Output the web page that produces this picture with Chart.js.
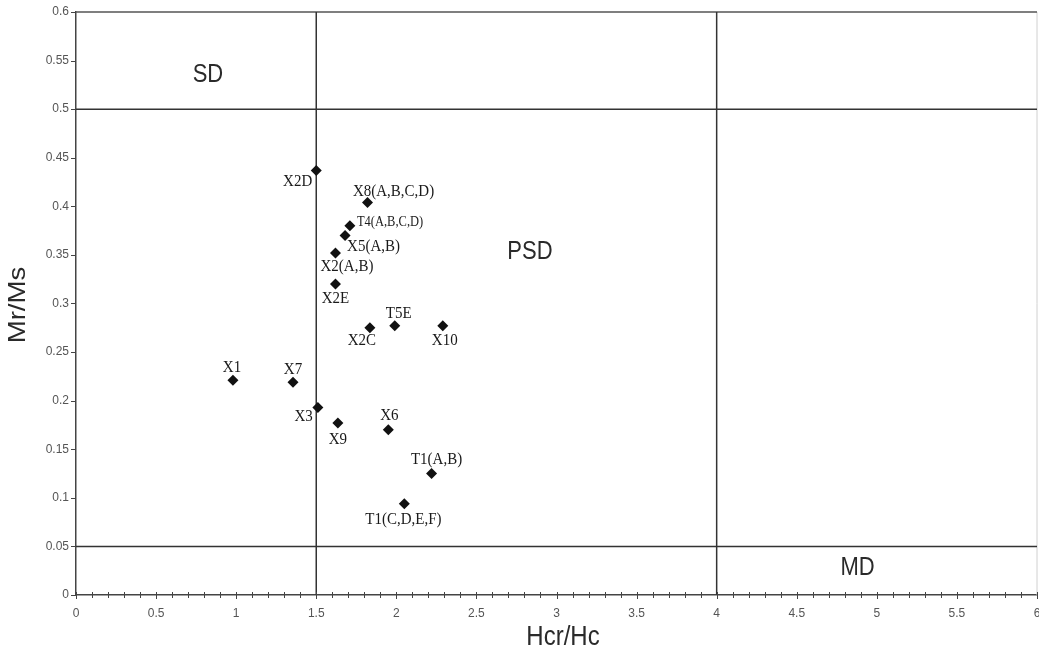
<!DOCTYPE html>
<html>
<head>
<meta charset="utf-8">
<script src="https://cdn.jsdelivr.net/npm/chart.js@4/dist/chart.umd.min.js"></script>
<style>
html,body{margin:0;padding:0;background:#fff;}
#c{display:block;}
</style>
</head>
<body>
<canvas id="c" width="1039" height="655"></canvas>
<script>
// ---- data ----
const sampleNames = ['X2D','X8(A,B,C,D)','T4(A,B,C,D)','X5(A,B)','X2(A,B)','X2E','X2C','T5E','X10','X1','X7','X3','X9','X6','T1(A,B)','T1(C,D,E,F)'];
const hcrHc = [1.50, 1.82, 1.71, 1.68, 1.62, 1.62, 1.835, 1.99, 2.29, 0.98, 1.355, 1.51, 1.635, 1.95, 2.22, 2.05];
const mrMs  = [0.437, 0.404, 0.380, 0.370, 0.352, 0.320, 0.275, 0.277, 0.277, 0.221, 0.219, 0.193, 0.177, 0.170, 0.125, 0.094];
const domainBoundsX = [1.5, 4];
const domainBoundsY = [0.5, 0.05];
const regionLabels = ['SD', 'PSD', 'MD'];
const regionAnchorX = [0.824, 2.834, 4.88];
const regionAnchorY = [0.535, 0.353, 0.028];
const xAxisTitle = 'Hcr/Hc';
const yAxisTitle = 'Mr/Ms';

// ---- label placement (pixel offsets, style only) ----
const labelPlacement = [
  {dx:-4, dy:11, align:'right'},
  {dx:26, dy:-11, align:'center'},
  {dx:7, dy:-4, align:'left', size:12.5},
  {dx:2, dy:11, align:'left'},
  {dx:-15, dy:13, align:'left'},
  {dx:0, dy:14, align:'center'},
  {dx:-8, dy:13, align:'center'},
  {dx:4, dy:-12, align:'center'},
  {dx:2, dy:15, align:'center'},
  {dx:-1, dy:-13, align:'center'},
  {dx:0, dy:-13, align:'center'},
  {dx:-5, dy:9, align:'right'},
  {dx:0, dy:16, align:'center'},
  {dx:1, dy:-14, align:'center'},
  {dx:5, dy:-14, align:'center'},
  {dx:-1, dy:16, align:'center'}
];

const X_MIN = 0, X_MAX = 6, Y_MIN = 0, Y_MAX = 0.6;
const LINE_COLOR = '#333';
const STRETCH = 1.15;

const points = hcrHc.map((x, i) => ({x: x, y: mrMs[i]}));

function lineDs(data, color, width) {
  return {type:'scatter', data: data, showLine:true, borderColor:color, borderWidth:width,
          pointRadius:0, pointHoverRadius:0, fill:false, clip:false, order:2};
}
const datasets = [];
domainBoundsX.forEach(v => datasets.push(lineDs([{x:v,y:Y_MIN},{x:v,y:Y_MAX}], LINE_COLOR, 1.5)));
domainBoundsY.forEach(v => datasets.push(lineDs([{x:X_MIN,y:v},{x:X_MAX,y:v}], LINE_COLOR, 1.5)));
datasets.push(lineDs([{x:X_MIN,y:Y_MAX},{x:X_MAX,y:Y_MAX}], '#555', 1.5));
datasets.push(lineDs([{x:X_MAX,y:Y_MIN},{x:X_MAX,y:Y_MAX}], '#d0d0d0', 1));
datasets.push({type:'scatter', data: points, pointStyle:'rectRot', pointRadius:5.5, pointHoverRadius:5.5,
  backgroundColor:'#111', borderColor:'#111', borderWidth:0, showLine:false, order:1});

function fmt(v){ return String(parseFloat(v.toFixed(2))); }

function drawStretched(ctx, text, x, y, align) {
  ctx.save();
  ctx.translate(x, y);
  ctx.scale(1, STRETCH);
  ctx.textAlign = align;
  ctx.textBaseline = 'middle';
  ctx.fillText(text, 0, 0);
  ctx.restore();
}

const annotPlugin = {
  id: 'annot',
  afterDatasetsDraw(chart) {
    const ctx = chart.ctx;
    const xs = chart.scales.x, ys = chart.scales.y;
    const area = chart.chartArea;
    // tick marks
    ctx.save();
    ctx.strokeStyle = '#444';
    ctx.lineWidth = 1;
    for (let i = 0; i <= 60; i++) {
      const v = i / 10;
      const px = Math.round(xs.getPixelForValue(v)) + 0.5;
      const major = i % 5 === 0;
      ctx.beginPath();
      ctx.moveTo(px, area.bottom - 3);
      ctx.lineTo(px, area.bottom + (major ? 4 : 3));
      ctx.stroke();
    }
    for (let i = 0; i <= 12; i++) {
      const v = i * 0.05;
      const py = Math.round(ys.getPixelForValue(v)) + 0.5;
      ctx.beginPath();
      ctx.moveTo(area.left - 5, py);
      ctx.lineTo(area.left, py);
      ctx.stroke();
    }
    ctx.restore();

    // point labels
    ctx.save();
    ctx.fillStyle = '#1a1a1a';
    sampleNames.forEach((name, i) => {
      const p = labelPlacement[i];
      const px = xs.getPixelForValue(hcrHc[i]);
      const py = ys.getPixelForValue(mrMs[i]);
      ctx.font = (p.size || 15) + 'px "Liberation Serif", "DejaVu Serif", serif';
      drawStretched(ctx, name, px + p.dx, py + p.dy, p.align);
    });
    ctx.restore();

    // region labels
    ctx.save();
    ctx.fillStyle = '#2a2a2a';
    ctx.font = '22px "Liberation Sans", Arial, sans-serif';
    regionLabels.forEach((t, i) => {
      drawStretched(ctx, t, xs.getPixelForValue(regionAnchorX[i]), ys.getPixelForValue(regionAnchorY[i]), 'center');
    });
    ctx.restore();

    // axis titles
    ctx.save();
    ctx.fillStyle = '#2a2a2a';
    ctx.font = '24px "Liberation Sans", Arial, sans-serif';
    drawStretched(ctx, xAxisTitle, 563, 637, 'center');
    ctx.translate(18, 305);
    ctx.rotate(-Math.PI / 2);
    ctx.scale(STRETCH, 1);
    ctx.textAlign = 'center';
    ctx.textBaseline = 'middle';
    ctx.fillText(yAxisTitle, 0, 0);
    ctx.restore();
  }
};

new Chart(document.getElementById('c'), {
  type: 'scatter',
  data: { datasets: datasets },
  options: {
    responsive: false,
    animation: false,
    layout: { autoPadding: false, padding: { top: 12, right: 2, left: 0, bottom: 0 } },
    plugins: { legend: { display: false }, tooltip: { enabled: false } },
    scales: {
      x: {
        type: 'linear', min: X_MIN, max: X_MAX,
        afterFit(s) { s.height = 60; s.paddingRight = 0; s.paddingLeft = 0; },
        grid: { display: false, drawTicks: false },
        border: { display: true, color: '#444', width: 1.5 },
        ticks: {
          stepSize: 0.1, autoSkip: false, maxRotation: 0, padding: 11,
          color: '#555', font: { family: '"Liberation Sans", Arial, sans-serif', size: 12 },
          callback(v) { return Math.abs(v * 2 - Math.round(v * 2)) < 1e-6 ? fmt(v) : ''; }
        }
      },
      y: {
        type: 'linear', min: Y_MIN, max: Y_MAX,
        afterFit(s) { s.width = 76; s.paddingTop = 0; s.paddingBottom = 0; },
        grid: { display: false, drawTicks: false },
        border: { display: true, color: '#444', width: 1.5 },
        ticks: {
          stepSize: 0.05, padding: 7,
          color: '#555', font: { family: '"Liberation Sans", Arial, sans-serif', size: 12 },
          callback(v) { return fmt(v); }
        }
      }
    }
  },
  plugins: [annotPlugin]
});
</script>
</body>
</html>
